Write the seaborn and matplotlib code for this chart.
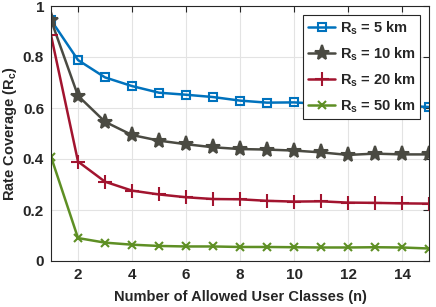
import numpy as np
import pandas as pd
import matplotlib
matplotlib.use("Agg")
import matplotlib.pyplot as plt
import seaborn as sns

# numero de classes de usuarios permitidas
n_classes = list(range(1, 16))

# cobertura de taxa para cada raio R_s
cov_5km = [0.945, 0.788, 0.720, 0.686, 0.660, 0.652, 0.643, 0.629, 0.621, 0.622,
           0.616, 0.612, 0.610, 0.609, 0.604]
cov_10km = [0.945, 0.648, 0.546, 0.494, 0.472, 0.458, 0.446, 0.439, 0.437, 0.433,
            0.426, 0.416, 0.421, 0.418, 0.418]
cov_20km = [0.886, 0.390, 0.311, 0.276, 0.261, 0.250, 0.243, 0.242, 0.236, 0.233,
            0.234, 0.229, 0.228, 0.226, 0.225]
cov_50km = [0.409, 0.090, 0.072, 0.064, 0.059, 0.057, 0.057, 0.055, 0.055, 0.054,
            0.053, 0.053, 0.054, 0.053, 0.049]

legendas = [r"R$_\mathsf{s}$ = 5 km", r"R$_\mathsf{s}$ = 10 km",
            r"R$_\mathsf{s}$ = 20 km", r"R$_\mathsf{s}$ = 50 km"]

sns.set_style("whitegrid")
plt.rcParams['font.family'] = ['Liberation Sans', 'DejaVu Sans']
plt.rcParams['font.weight'] = 'bold'
plt.rcParams['mathtext.fontset'] = 'custom'
plt.rcParams['mathtext.rm'] = 'Liberation Sans:bold'
plt.rcParams['mathtext.bf'] = 'Liberation Sans:bold'
plt.rcParams['mathtext.sf'] = 'Liberation Sans:bold'
plt.rcParams['mathtext.it'] = 'Liberation Sans:bold'
plt.rcParams['mathtext.default'] = 'bf'

fig = plt.figure(figsize=(4.36, 3.07), dpi=100)
ax = fig.add_axes([51 / 436, 1 - 261 / 307, 378 / 436, 255 / 307])

series = [cov_5km, cov_10km, cov_20km, cov_50km]
cores = ['#0072BD', '#4A4A42', '#A2142F', '#5E8F24']
marcadores = ['s', '*', '+', 'x']
tamanhos = [6, 11, 10, 6]

for vals, lab, c, m, ms in zip(series, legendas, cores, marcadores, tamanhos):
    df = pd.DataFrame({'n': n_classes, 'Rc': vals})
    kw = dict(markerfacecolor='none') if m == 's' else {}
    sns.lineplot(data=df, x='n', y='Rc', ax=ax, color=c, marker=m,
                 markersize=ms, markeredgewidth=1.5, linewidth=1.8,
                 markeredgecolor=c, label=lab, **kw)

ax.set_xlim(1, 15)
ax.set_ylim(0, 1)
ax.set_xticks([2, 4, 6, 8, 10, 12, 14])
ax.set_yticks([0, 0.2, 0.4, 0.6, 0.8, 1])
ax.set_yticklabels(['0', '0.2', '0.4', '0.6', '0.8', '1'])
ax.set_xlabel('Number of Allowed User Classes (n)', fontsize=10.5, fontweight='bold', color='#262626', labelpad=6)
ax.set_ylabel(r'Rate Coverage (R$_\mathsf{c}$)', fontsize=10.5, fontweight='bold', color='#262626', labelpad=3)

ax.grid(True, color='#e3e3e3', linewidth=0.8)
for s in ax.spines.values():
    s.set_visible(True)
    s.set_color('#262626')
    s.set_linewidth(0.8)
ax.tick_params(direction='in', length=4, width=0.8, top=True, right=True,
               labelsize=11, colors='#262626', pad=5)
for t in ax.get_xticklabels() + ax.get_yticklabels():
    t.set_fontweight('bold')

leg = ax.legend(loc='upper right', fontsize=10.5, frameon=True, fancybox=False,
                edgecolor='#262626', framealpha=1, borderpad=0.3, handlelength=1.9,
                handletextpad=0.3, labelspacing=0.6, borderaxespad=0.6)
leg.get_frame().set_linewidth(0.8)

fig.savefig('out.png', dpi=100)
